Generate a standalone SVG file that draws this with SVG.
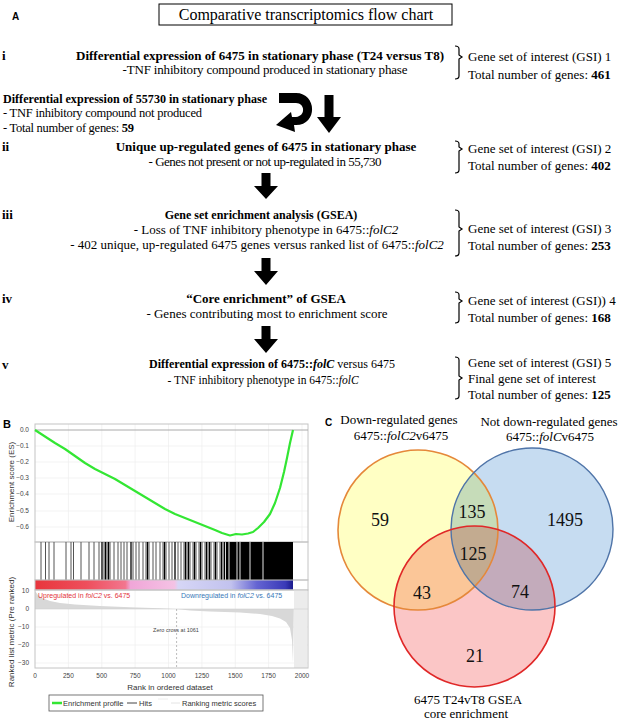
<svg xmlns="http://www.w3.org/2000/svg" width="618" height="720" viewBox="0 0 618 720">
<defs>
<style>
.s{font-family:"Liberation Serif","Times New Roman",serif;font-size:13px;fill:#000}
.b{font-weight:bold}
.i{font-style:italic}
.c{text-anchor:middle}
.ss{font-family:"Liberation Sans",Arial,sans-serif;fill:#333}
.tk{font-family:"Liberation Sans",Arial,sans-serif;font-size:6.5px;fill:#444}
.brk{fill:none;stroke:#000;stroke-width:1.2}
.arr{fill:#000}
.grid{stroke:#eeeeee;stroke-width:0.7}
.frame{fill:none;stroke:#c4c4c4;stroke-width:1}
.num{font-family:"Liberation Serif","Times New Roman",serif;font-size:18px;fill:#111;text-anchor:middle}
</style>
<linearGradient id="cbar" x1="35" y1="0" x2="293" y2="0" gradientUnits="userSpaceOnUse">
<stop offset="0" stop-color="#e8353d"/>
<stop offset="0.2" stop-color="#ee4f5c"/>
<stop offset="0.35" stop-color="#f2768e"/>
<stop offset="0.37" stop-color="#f0a6d8"/>
<stop offset="0.54" stop-color="#f4c2e4"/>
<stop offset="0.555" stop-color="#d6d6f6"/>
<stop offset="0.76" stop-color="#c2c2ee"/>
<stop offset="0.86" stop-color="#6464d2"/>
<stop offset="0.97" stop-color="#3a3ab8"/>
<stop offset="1" stop-color="#1a1a8c"/>
</linearGradient>
</defs>
<rect width="618" height="720" fill="#fff"/>

<!-- Panel A -->
<g id="panelA-label"><text x="12" y="20" class="ss b" style="font-size:10px;fill:#000">A</text></g>
<g id="title">
<rect x="159" y="4" width="293" height="21" fill="#fff" stroke="#000" stroke-width="1"/>
<text x="306" y="20" class="s c" style="font-size:16px">Comparative transcriptomics flow chart</text>
</g>

<g id="step-i">
<text x="2" y="60" class="s b">i</text>
<text x="260" y="60" class="s b c">Differential  expression of 6475 in stationary phase (T24 versus T8)</text>
<text x="265" y="74" class="s c" textLength="285">-TNF inhibitory compound produced  in stationary phase</text>
</g>
<g id="gsi-1">
<path class="brk" d="M455,46 Q459,46 459,49 V55 L462,57 L459,59 V76 Q459,79 455,79"/>
<text x="468" y="61" class="s">Gene set of interest  (GSI) 1</text>
<text x="468" y="79" class="s">Total number of genes: <tspan class="b">461</tspan></text>
</g>

<g id="step-55730">
<text x="3" y="103" class="s b" textLength="264" lengthAdjust="spacingAndGlyphs">Differential expression of 55730 in stationary phase</text>
<text x="3" y="117" class="s" style="font-size:12.5px" textLength="199">- TNF  inhibitory compound not produced</text>
<text x="3" y="132" class="s" style="font-size:12.5px" textLength="131">- Total number of genes: <tspan class="b">59</tspan></text>
</g>

<g id="step-ii">
<text x="2" y="151" class="s b">ii</text>
<text x="266" y="151" class="s b c">Unique up-regulated genes of 6475 in stationary phase</text>
<text x="265" y="166" class="s c" textLength="233">- Genes  not present or not up-regulated  in 55,730</text>
</g>
<g id="gsi-2">
<path class="brk" d="M455,141 Q459,141 459,144 V147 L462,149 L459,151 V170 Q459,173 455,173"/>
<text x="468" y="153" class="s">Gene set of interest  (GSI) 2</text>
<text x="468" y="170" class="s">Total number of genes: <tspan class="b">402</tspan></text>
</g>

<g id="step-iii">
<text x="2" y="219" class="s b">iii</text>
<text x="261" y="219" class="s b c" style="font-size:12px">Gene set enrichment analysis (GSEA)</text>
<text x="266" y="234" class="s c">- Loss of TNF inhibitory phenotype in 6475::<tspan class="i">folC2</tspan></text>
<text x="257" y="249" class="s c">- 402 unique, up-regulated  6475 genes versus ranked list of 6475::<tspan class="i">folC2</tspan></text>
</g>
<g id="gsi-3">
<path class="brk" d="M455,210 Q459,210 459,213 V227 L462,229 L459,231 V253 Q459,256 455,256"/>
<text x="468" y="233" class="s">Gene set of interest  (GSI) 3</text>
<text x="468" y="250" class="s">Total number of genes: <tspan class="b">253</tspan></text>
</g>

<g id="step-iv">
<text x="2" y="303" class="s b">iv</text>
<text x="266" y="303" class="s b c">“Core enrichment” of GSEA</text>
<text x="267" y="318" class="s c">- Genes contributing most to enrichment score</text>
</g>
<g id="gsi-4">
<path class="brk" d="M455,292 Q459,292 459,295 V299 L462,301 L459,303 V320 Q459,323 455,323"/>
<text x="468" y="305" class="s">Gene set of interest  (GSI)) 4</text>
<text x="468" y="322" class="s">Total number of genes: <tspan class="b">168</tspan></text>
</g>

<g id="step-v">
<text x="2" y="369" class="s b">v</text>
<text x="272" y="368" class="s c" style="font-size:12px"><tspan class="b">Differential  expression of 6475::</tspan><tspan class="b i">folC</tspan> versus 6475</text>
<text x="263" y="384" class="s c" style="font-size:11.5px">- TNF inhibitory phenotype in 6475::<tspan class="i">folC</tspan></text>
</g>
<g id="gsi-5">
<path class="brk" d="M455,357 Q459,357 459,360 V376 L462,378 L459,380 V396 Q459,399 455,399"/>
<text x="468" y="367" class="s">Gene set of interest  (GSI)  5</text>
<text x="468" y="383" class="s">Final gene set of interest</text>
<text x="468" y="399" class="s">Total number of genes: <tspan class="b">125</tspan></text>
</g>

<g id="connectors">
<path class="arr" d="M279,93 H296 C317,93 318,125 296,125 L294,125 L295,132 L276,125 L291,112 L292,117 L296,117 C306,116 305,103 296,103 H279 Z"/>
<path class="arr" d="M324.5,95 H333.5 V117 H341 L329,133 L317,117 H324.5 Z"/>
<path class="arr" d="M261.5,173 H270.5 V186 H278 L266,199 L254,186 H261.5 Z"/>
<path class="arr" d="M261.5,258 H270.5 V271 H278 L266,285 L254,271 H261.5 Z"/>
<path class="arr" d="M261.5,326 H270.5 V339 H278 L266,353 L254,339 H261.5 Z"/>
</g>

<!-- Panel B -->
<g id="panelB">
<text x="3" y="428" class="ss b" style="font-size:11px;fill:#000">B</text>
<g class="grid">
<path d="M68.4,424V542M101.8,424V542M135.1,424V542M168.5,424V542M201.9,424V542M235.3,424V542M268.6,424V542M302,424V542"/>
<path d="M35,446H308M35,462H308M35,478H308M35,494H308M35,511H308M35,527H308"/>
<path d="M68.4,590V668M101.8,590V668M135.1,590V668M168.5,590V668M201.9,590V668M235.3,590V668M268.6,590V668M302,590V668"/>
<path d="M35,627H308M35,645H308M35,663H308"/>
</g>
<rect x="35" y="424" width="273" height="118" class="frame"/>
<line x1="35" y1="430" x2="308" y2="430" stroke="#aaa" stroke-width="1"/>
<polyline fill="none" stroke="#33e633" stroke-width="2.2" stroke-linejoin="round" points="35,430 45,436.5 55,443 65,449 75,456 85,463 95,469 105,474 115,479 125,485 135,491 145,497 155,503 165,509 175,514 185,518 195,522 205,526 215,530 222,533 230,535.5 236,534 242,534.5 248,533.5 253,532 258,528 264,522 270,514 275,503 280,488 284,472 287,458 290,443 293,430"/>
<rect x="35" y="542" width="273" height="38" class="frame"/>
<rect x="226" y="542" width="67" height="38" fill="#000"/>
<path stroke="#555" stroke-width="1" d="M41,542V580M45.5,542V580M49,542V580M54,542V580M66,542V580M71,542V580M73.5,542V580M81,542V580M89,542V580M94,542V580M99,542V580M104,542V580M107,542V580M110,542V580M114,542V580M118,542V580M121,542V580M124,542V580M127,542V580M133,542V580M136,542V580M139,542V580M143,542V580M146,542V580M149,542V580M153,542V580M156,542V580M160,542V580M163,542V580M166,542V580M169,542V580M172,542V580M178,542V580M181,542V580M184,542V580M187,542V580M190,542V580M193,542V580M196,542V580M199,542V580M202,542V580M205,542V580M208,542V580M211,542V580M214,542V580M217,542V580M220,542V580M223,542V580"/>
<path stroke="#000" stroke-width="1.3" d="M102,542V580M105.5,542V580M108.5,542V580M131,542V580M147.5,542V580M164.5,542V580M175,542V580M185.5,542V580M188.5,542V580M194.5,542V580M200.5,542V580M206.5,542V580M209.5,542V580M215.5,542V580M221.5,542V580M224.5,542V580"/>
<path stroke="#fff" stroke-width="0.9" d="M229,542V580M237,542V580M240,542V580M250,542V580M263,542V580"/>
<rect x="35" y="580" width="258" height="10" fill="url(#cbar)"/>
<rect x="35" y="580" width="273" height="10" class="frame"/>
<rect x="294" y="590" width="13" height="78" fill="#ececec"/>
<path fill="#d8d8d8" d="M35,609 L35,591 L38,595 L42,598 L50,601 L60,603 L75,604.5 L100,606 L130,607.3 L160,608.3 L176,609 L190,610.5 L210,611.5 L240,612.5 L260,614 L272,616 L280,618.5 L286,622 L290,628 L292,640 L293,663 L293.8,609 Z"/>
<line x1="35" y1="609" x2="308" y2="609" stroke="#d0d0d0" stroke-width="0.6"/>
<rect x="35" y="590" width="273" height="78" class="frame"/>
<line x1="176.6" y1="609" x2="176.6" y2="668" stroke="#aaa" stroke-width="0.8" stroke-dasharray="2,2"/>
<text x="38" y="598" class="ss" style="font-size:7px;fill:#e3343c">Upregulated  in <tspan font-style="italic">folC2</tspan> vs. 6475</text>
<text x="181" y="598" class="ss" style="font-size:7px;fill:#3a78b8">Downregulated  in <tspan font-style="italic">folC2</tspan> vs. 6475</text>
<text x="176" y="632" class="ss" style="font-size:5.5px;fill:#444;text-anchor:middle">Zero cross at 1061</text>
<g class="tk" text-anchor="end">
<text x="29" y="432">0.0</text>
<text x="29" y="448">−0.1</text>
<text x="29" y="464">−0.2</text>
<text x="29" y="480">−0.3</text>
<text x="29" y="496">−0.4</text>
<text x="29" y="513">−0.5</text>
<text x="29" y="529">−0.6</text>
<text x="29" y="593">10</text>
<text x="29" y="611">0</text>
<text x="29" y="629">−10</text>
<text x="29" y="647">−20</text>
<text x="29" y="665">−30</text>
</g>
<g class="tk" text-anchor="middle">
<text x="35" y="678">0</text>
<text x="68.4" y="678">250</text>
<text x="101.8" y="678">500</text>
<text x="135.1" y="678">750</text>
<text x="168.5" y="678">1000</text>
<text x="201.9" y="678">1250</text>
<text x="235.3" y="678">1500</text>
<text x="268.6" y="678">1750</text>
<text x="302" y="678">2000</text>
</g>
<text transform="translate(14,482) rotate(-90)" class="ss" style="font-size:8px;text-anchor:middle">Enrichment score (ES)</text>
<text transform="translate(14,632) rotate(-90)" class="ss" style="font-size:8px;text-anchor:middle">Ranked list metric (Pre ranked)</text>
<text x="170" y="690" class="ss" style="font-size:8px;text-anchor:middle">Rank in ordered dataset</text>
<rect x="49" y="695" width="214" height="16" fill="#fff" stroke="#555" stroke-width="0.8"/>
<line x1="52" y1="703" x2="62" y2="703" stroke="#33e633" stroke-width="2.5"/>
<text x="63" y="706" class="ss" style="font-size:7.5px">Enrichment profile</text>
<line x1="127" y1="703" x2="137" y2="703" stroke="#444" stroke-width="1"/>
<text x="139" y="706" class="ss" style="font-size:7.5px">Hits</text>
<line x1="158" y1="699" x2="168" y2="699" stroke="#eee" stroke-width="1"/>
<line x1="171" y1="703" x2="180" y2="703" stroke="#e4e4e4" stroke-width="1"/>
<text x="182" y="706" class="ss" style="font-size:7.5px">Ranking metric scores</text>
</g>

<!-- Panel C -->
<g id="panelC-label"><text x="325" y="426" class="ss b" style="font-size:10px;fill:#000">C</text></g>
<g id="set-down-folC2">
<text x="399" y="424" class="s c">Down-regulated  genes</text>
<text x="401" y="440" class="s c">6475::<tspan class="i">folC2</tspan>v6475</text>
</g>
<g id="set-notdown-folC">
<text x="549" y="426" class="s c">Not down-regulated genes</text>
<text x="550" y="441" class="s c">6475::<tspan class="i">folC</tspan>v6475</text>
</g>
<g id="set-gsea-core">
<text x="468" y="704" class="s c">6475  T24vT8 GSEA</text>
<text x="466" y="718" class="s c">core enrichment</text>
</g>
<g id="venn">
<g style="isolation:isolate">
<circle cx="418" cy="530" r="80" fill="#ffffc4"/>
<circle cx="532" cy="529" r="81" fill="#c6dcf1" style="mix-blend-mode:multiply"/>
<circle cx="474.5" cy="606.5" r="80.5" fill="#fbc6c6" style="mix-blend-mode:multiply"/>
</g>
<circle cx="418" cy="530" r="80" fill="none" stroke="#e5883a" stroke-width="1.6"/>
<circle cx="532" cy="529" r="81" fill="none" stroke="#4f74a8" stroke-width="1.4"/>
<circle cx="474.5" cy="606.5" r="80.5" fill="none" stroke="#e02828" stroke-width="1.6"/>
<text x="380" y="526" class="num">59</text>
<text x="472" y="518" class="num">135</text>
<text x="565" y="526" class="num">1495</text>
<text x="473" y="560" class="num">125</text>
<text x="422" y="599" class="num">43</text>
<text x="520" y="598" class="num">74</text>
<text x="475" y="662" class="num">21</text>
</g>
</svg>
